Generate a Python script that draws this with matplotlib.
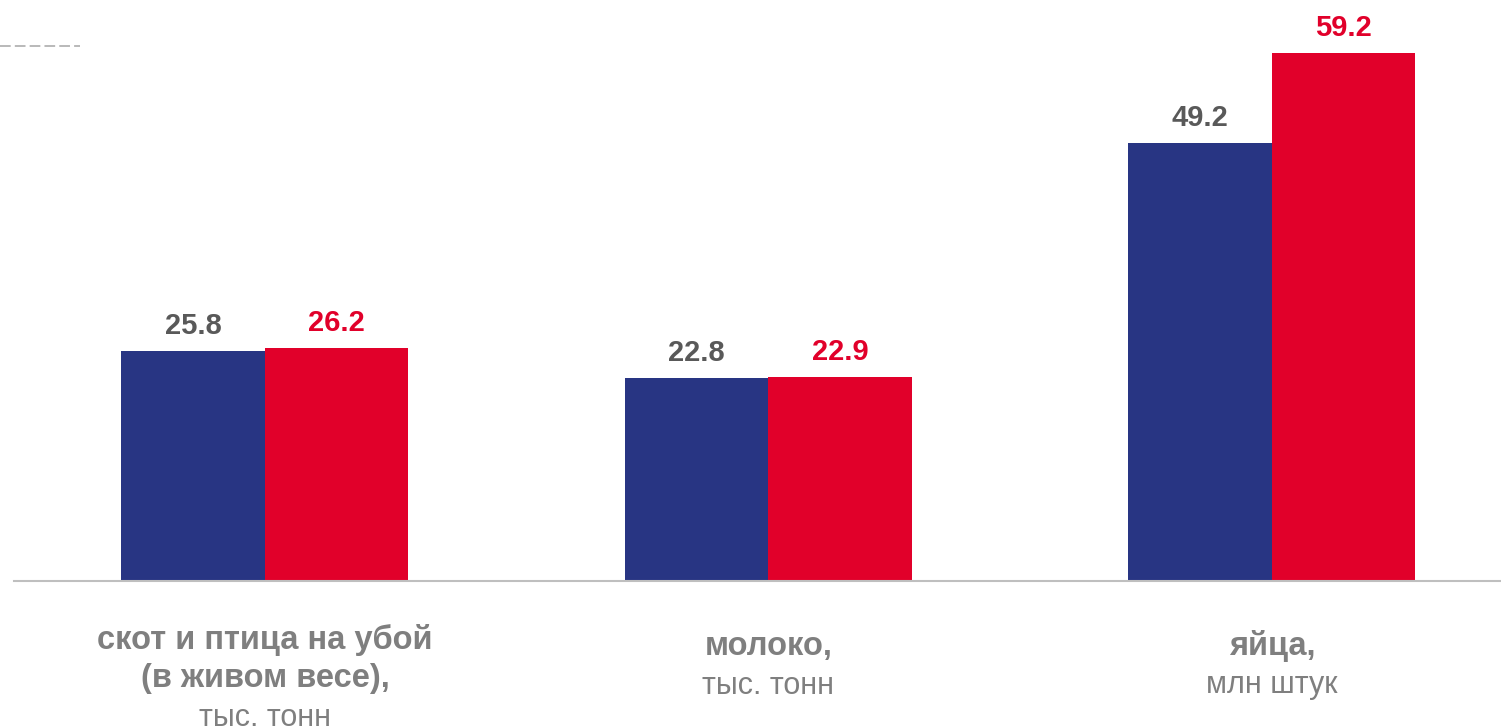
import matplotlib.pyplot as plt
import numpy as np

plt.rcParams['font.family'] = ['Liberation Sans', 'DejaVu Sans']

# data
cat_bold = [['скот и птица на убой', '(в живом весе),'], ['молоко,'], ['яйца,']]
cat_units = ['тыс. тонн', 'тыс. тонн', 'млн штук']
prev_vals = [25.8, 22.8, 49.2]
curr_vals = [26.2, 22.9, 59.2]
grid_levels = [60]

blue = '#283583'
red = '#e1002a'
label_gray = '#595959'
cat_gray = '#7f7f7f'

W, H = 1501, 728
fig = plt.figure(figsize=(W / 100, H / 100), dpi=100)
ax = fig.add_axes([14 / W, (H - 581) / H, (W - 14) / W, 581 / H])

x = np.arange(len(prev_vals))
bw = 0.285
b1 = ax.bar(x - bw / 2, prev_vals, bw, color=blue)
b2 = ax.bar(x + bw / 2, curr_vals, bw, color=red)

for bars, vals, col in [(b1, prev_vals, label_gray), (b2, curr_vals, red)]:
    for rect, v in zip(bars, vals):
        ax.annotate(f'{v:.1f}', (rect.get_x() + rect.get_width() / 2, v),
                    xytext=(0, 17), textcoords='offset pixels',
                    ha='center', va='baseline', fontsize=21,
                    fontweight='bold', color=col)

ax.set_xlim(-0.4985, 2.455)
ax.set_ylim(0, 65.2)

# short dashed grid remnant at top left
for g in grid_levels:
    ax.plot([-0.0094, 0.0444], [g, g], transform=ax.get_yaxis_transform(),
            color='#a6a6a6', lw=1.1, dashes=(7, 2.7), clip_on=False)

# category labels
for i, (bold_lines, unit) in enumerate(zip(cat_bold, cat_units)):
    base = 68 if len(bold_lines) == 2 else 74
    for j, line in enumerate(bold_lines):
        ax.annotate(line, (i, 0), xycoords=('data', 'axes fraction'),
                    xytext=(0, -(base + 38.5 * j)), textcoords='offset pixels',
                    ha='center', va='baseline', fontsize=23.5,
                    fontweight='bold', color=cat_gray, annotation_clip=False)
    ax.annotate(unit, (i, 0), xycoords=('data', 'axes fraction'),
                xytext=(0, -(base + 38.5 * len(bold_lines))), textcoords='offset pixels',
                ha='center', va='baseline', fontsize=22,
                color=cat_gray, annotation_clip=False)

for s in ['top', 'right', 'left']:
    ax.spines[s].set_visible(False)
ax.spines['bottom'].set_color('#bfbfbf')
ax.spines['bottom'].set_linewidth(1.5)
ax.set_xticks([])
ax.set_yticks([])

fig.savefig('out.png', dpi=100)
